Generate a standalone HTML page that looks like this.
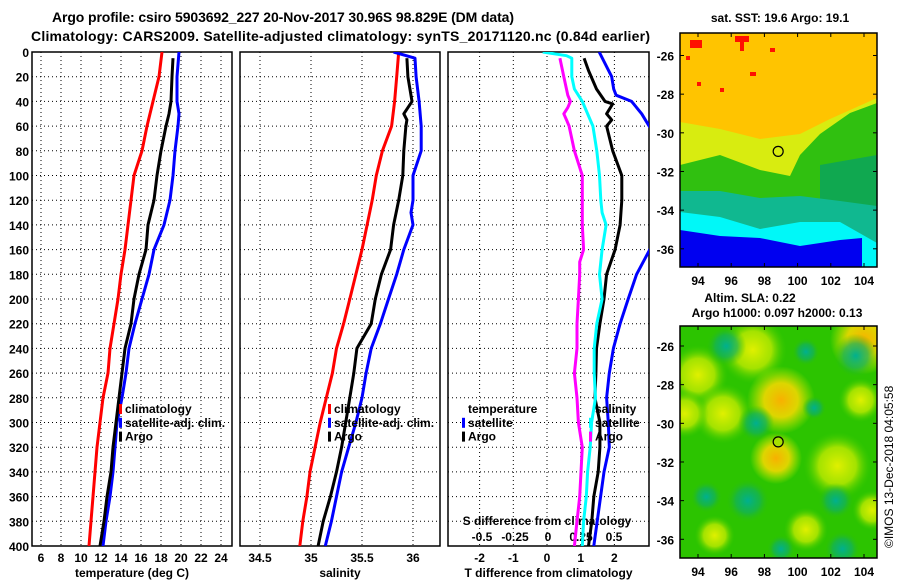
<!DOCTYPE html>
<html><head><meta charset="utf-8"><style>
body{margin:0;background:#fff;}
svg{display:block;font-family:"Liberation Sans",sans-serif;font-weight:bold;}
</style></head><body>
<svg id="chart" width="900" height="580" viewBox="0 0 900 580" xmlns="http://www.w3.org/2000/svg">
<defs>
<clipPath id="c1"><rect x="32" y="52" width="200" height="494"/></clipPath>
<clipPath id="c2"><rect x="240" y="52" width="200" height="494"/></clipPath>
<clipPath id="c3"><rect x="448" y="52" width="201" height="494"/></clipPath>
<clipPath id="cm2"><rect x="680" y="326" width="197" height="232"/></clipPath>
<radialGradient id="gy"><stop offset="0" stop-color="#e0f000"/><stop offset="0.55" stop-color="#b8e800" stop-opacity="0.85"/><stop offset="1" stop-color="#40cc00" stop-opacity="0"/></radialGradient>
<radialGradient id="go"><stop offset="0" stop-color="#f8b000"/><stop offset="0.5" stop-color="#f0d800" stop-opacity="0.9"/><stop offset="1" stop-color="#d0f000" stop-opacity="0"/></radialGradient>
<radialGradient id="gt"><stop offset="0" stop-color="#00b090"/><stop offset="0.55" stop-color="#10b060" stop-opacity="0.7"/><stop offset="1" stop-color="#30c000" stop-opacity="0"/></radialGradient>
</defs>
<text x="52" y="22" font-size="14" textLength="462">Argo profile: csiro 5903692_227 20-Nov-2017 30.96S 98.829E (DM data)</text>
<text x="31" y="41" font-size="14" textLength="619">Climatology: CARS2009. Satellite-adjusted climatology: synTS_20171120.nc (0.84d earlier)</text>
<g id="plots"></g>
<g id="maps"></g>
<text x="780" y="22" font-size="12" text-anchor="middle">sat. SST: 19.6 Argo: 19.1</text>
<text x="750" y="302" font-size="12" text-anchor="middle">Altim. SLA: 0.22</text>
<text x="777" y="317" font-size="12" text-anchor="middle">Argo h1000: 0.097 h2000: 0.13</text>
<text font-size="12" font-weight="normal" transform="translate(893,548) rotate(-90)">©IMOS 13-Dec-2018 04:05:58</text>
</svg>
<script>
// ---------- data ----------
const depthTicks=[0,20,40,60,80,100,120,140,160,180,200,220,240,260,280,300,320,340,360,380,400];
const tempTicks=[6,8,10,12,14,16,18,20,22,24];
const salTicks=[34.5,35,35.5,36];
const tdiffTicks=[-2,-1,0,1,2];
const sdiffTicks=[-0.5,-0.25,0,0.25,0.5];
const sdiffTickLabels=["-0.5","-0.25","0","0.25","0.5"];
const depthStd=[0,20,40,60,80,100,120,140,160,180,200,220,240,260,280,300,320,340,360,380,400];
const tempClim=[18.1,17.8,17.2,16.6,16.1,15.3,15.0,14.7,14.4,14.0,13.7,13.3,12.9,12.7,12.2,11.9,11.6,11.4,11.2,11.0,10.8];
const depthSatT=[0,20,40,50,60,80,100,120,140,160,180,200,220,240,260,280,300,320,340,360,380,400];
const tempSat=[19.8,19.6,19.6,19.8,19.7,19.4,19.2,18.9,18.3,17.3,16.8,16.1,15.4,14.8,14.5,14.1,13.6,13.4,13.2,12.9,12.5,12.2];
const depthArgo=[5,20,40,50,60,80,100,120,140,160,180,200,220,240,260,280,300,320,340,360,380,400];
const tempArgo=[19.2,19.1,19.0,18.8,18.5,18.0,17.6,17.3,16.7,16.5,15.8,15.3,15.0,14.4,14.1,13.8,13.5,13.2,13.0,12.6,12.3,11.9];
const salClim=[35.86,35.84,35.82,35.79,35.70,35.64,35.60,35.55,35.50,35.44,35.38,35.32,35.25,35.21,35.15,35.09,35.04,34.99,34.96,34.92,34.89];
const depthSatS=[0,5,20,40,60,80,100,120,130,140,160,180,200,220,240,260,280,300,320,340,360,380,400];
const salSat=[35.81,36.02,36.03,36.06,36.08,36.08,36.0,36.0,35.98,36.0,35.91,35.84,35.76,35.68,35.59,35.54,35.50,35.44,35.37,35.30,35.25,35.20,35.14];
const depthArgoS=[5,20,40,50,55,60,80,100,120,140,160,180,200,220,240,260,280,300,320,340,360,380,400];
const salArgo=[35.94,35.95,35.99,35.91,35.94,35.93,35.91,35.90,35.86,35.81,35.78,35.69,35.63,35.59,35.45,35.42,35.38,35.34,35.30,35.25,35.19,35.12,35.07];
const depthTdSat=[0,20,30,35,40,50,60,80,100,140,160,180,200,220,240,260,280,300,320,340,360,380,400];
const tdiffSat=[1.55,1.92,1.98,2.05,2.51,2.81,3.03,3.6,3.9,3.6,3.05,2.66,2.41,2.17,1.97,1.85,1.77,1.82,1.85,1.69,1.59,1.49,1.39];
const depthTdArgo=[5,15,30,40,42,50,55,60,80,100,120,140,160,180,200,220,240,260,280,300,320,340,360,380,400];
const tdiffArgo=[1.10,1.23,1.47,1.72,1.95,1.77,1.92,1.77,1.95,2.22,2.22,2.17,2.02,1.77,1.69,1.57,1.47,1.45,1.42,1.57,1.57,1.52,1.39,1.33,1.23];
const depthSdSat=[0,3,5,20,30,40,60,80,100,120,130,140,160,180,200,220,240,260,280,300,320,340,360,380,400];
const sdiffSat=[-0.04,0.14,0.18,0.18,0.20,0.26,0.34,0.37,0.39,0.40,0.41,0.44,0.41,0.39,0.41,0.37,0.35,0.35,0.36,0.33,0.32,0.30,0.29,0.27,0.26];
const depthSdArgo=[5,20,35,40,45,50,55,60,80,100,120,140,160,170,180,200,220,240,260,280,300,320,340,360,380,400];
const sdiffArgo=[0.09,0.12,0.15,0.17,0.15,0.12,0.14,0.16,0.20,0.26,0.26,0.26,0.27,0.24,0.24,0.23,0.22,0.22,0.20,0.22,0.23,0.26,0.25,0.24,0.22,0.20];
const lonTicks=[94,96,98,100,102,104];
const latTicks=[-26,-28,-30,-32,-34,-36];

// ---------- axes ----------
const Y0=52,Y1=546;
const yD=d=>Y0+d/400*(Y1-Y0);
const xT=t=>41+(t-6)*10;
const xS=s=>260+(s-34.5)*102;
const xTd=v=>547+v*33.7;
const xSd=v=>548+v*132;
const lonX=l=>698+(l-94)*16.6;
const latY1=a=>55.5+(-26-a)*19.33;
const latY2=a=>346+(-26-a)*19.33;

const NS="http://www.w3.org/2000/svg";
const plots=document.getElementById('plots');
function mk(tag,attrs,parent){const e=document.createElementNS(NS,tag);for(const k in attrs)e.setAttribute(k,attrs[k]);(parent||plots).appendChild(e);return e;}
function txt(s,x,y,anchor,size,parent){const e=mk('text',{x:x,y:y,'text-anchor':anchor||'middle','font-size':size||12},parent);e.textContent=s;return e;}

function panel(x0,x1,ticks,xf,labels,title,name){
  const g=mk('g',{});
  
  
  depthTicks.forEach(d=>{if(d>0&&d<400)mk('line',{x1:x0,x2:x1,y1:yD(d),y2:yD(d),stroke:'#000','stroke-width':1,'stroke-dasharray':'1,3'},g);});
  ticks.forEach((t,i)=>{const x=xf(t);if(x>x0+1&&x<x1-1)mk('line',{x1:x,x2:x,y1:Y0,y2:Y1,stroke:'#000','stroke-width':1,'stroke-dasharray':'1,3'},g);
    if(labels){const l=txt(labels[i],x,562,'middle',12,g);}});
  mk('rect',{x:x0,y:Y0,width:x1-x0,height:Y1-Y0,fill:'none',stroke:'#000','stroke-width':1.5},g);
  const t=txt(title,(x0+x1)/2,577,'middle',12,g);
  
  
  return g;
}
const g1=panel(32,232,tempTicks,xT,tempTicks.map(String),'temperature (deg C)','temperature-panel');
const g2=panel(240,440,salTicks,xS,salTicks.map(String),'salinity','salinity-panel');
const g3=panel(448,649,tdiffTicks,xTd,tdiffTicks.map(String),'T difference from climatology','difference-panel');
depthTicks.forEach(d=>{const l=txt(String(d),29,yD(d)+5,'end',12);
  
  });
const sdl=txt('S difference from climatology',547,525,'middle',12,g3);


sdiffTicks.forEach((v,i)=>{const l=txt(sdiffTickLabels[i],xSd(v),541,'middle',12,g3);
  
  });

function series(g,depths,vals,xf,color,clip,name){
  const pts=depths.map((d,i)=>xf(vals[i]).toFixed(1)+','+yD(d).toFixed(1)).join(' ');
  const p=mk('polyline',{points:pts,fill:'none',stroke:color,'stroke-width':3,'stroke-linejoin':'round','clip-path':'url(#'+clip+')'},g);
  
  
}
series(g1,depthStd,tempClim,xT,'#ff0000','c1','temp-climatology-line');
series(g1,depthSatT,tempSat,xT,'#0000ff','c1','temp-satellite-line');
series(g1,depthArgo,tempArgo,xT,'#000000','c1','temp-argo-line');
series(g2,depthStd,salClim,xS,'#ff0000','c2','sal-climatology-line');
series(g2,depthSatS,salSat,xS,'#0000ff','c2','sal-satellite-line');
series(g2,depthArgoS,salArgo,xS,'#000000','c2','sal-argo-line');
series(g3,depthTdSat,tdiffSat,xTd,'#0000ff','c3','tdiff-satellite-line');
series(g3,depthTdArgo,tdiffArgo,xTd,'#000000','c3','tdiff-argo-line');
series(g3,depthSdSat,sdiffSat,xSd,'#00ffff','c3','sdiff-satellite-line');
series(g3,depthSdArgo,sdiffArgo,xSd,'#ff00ff','c3','sdiff-argo-line');

function legend(g,x,items,name){
  const lg=mk('g',{},g);
  
  
  items.forEach((it,i)=>{const y=413+i*13.8;
    if(it[1])mk('rect',{x:x,y:y-9,width:3,height:10,fill:it[1]},lg);
    txt(it[0],x+6,y,'start',12,lg);});
}
legend(g1,119,[['climatology','#ff0000'],['satellite-adj. clim.','#0000ff'],['Argo','#000000']],'temperature-legend');
legend(g2,328,[['climatology','#ff0000'],['satellite-adj. clim.','#0000ff'],['Argo','#000000']],'salinity-legend');
legend(g3,462,[['temperature',null],['satellite','#0000ff'],['Argo','#000000']],'tdiff-legend');
legend(g3,589,[['salinity',null],['satellite','#00ffff'],['Argo','#ff00ff']],'sdiff-legend');

// ---------- maps ----------
const maps=document.getElementById('maps');
function mapAxes(g,y0,y1,latY){
  lonTicks.forEach(l=>{const x=lonX(l);mk('line',{x1:x,x2:x,y1:y1,y2:y1-4,stroke:'#000'},g);mk('line',{x1:x,x2:x,y1:y0,y2:y0+4,stroke:'#000'},g);
    const t=txt(String(l),x,y1+18,'middle',12,g);});
  latTicks.forEach(a=>{const y=latY(a);mk('line',{x1:680,x2:684,y1:y,y2:y,stroke:'#000'},g);mk('line',{x1:877,x2:873,y1:y,y2:y,stroke:'#000'},g);
    const t=txt(String(a),674,y+5,'end',12,g);});
  mk('rect',{x:680,y:y0,width:197,height:y1-y0,fill:'none',stroke:'#000','stroke-width':1.5},g);
}
const m1=mk('g',{},maps);


mk('rect',{x:680,y:33,width:197,height:234,fill:'#ffc400'},m1);
mk('polygon',{points:'680,122 720,129 760,139 800,134 830,119 877,98 877,267 680,267',fill:'#d8ec10'},m1);
mk('polygon',{points:'680,165 720,155 760,170 790,176 800,155 820,134 850,113 877,103 877,267 680,267',fill:'#30c010'},m1);
mk('polygon',{points:'820,165 877,155 877,267 820,267',fill:'#10a850'},m1);
mk('polygon',{points:'680,191 720,191 760,198 800,196 840,201 877,206 877,267 680,267',fill:'#10b890'},m1);
mk('polygon',{points:'680,212 720,217 760,229 800,222 840,222 877,243 877,267 680,267',fill:'#00f8f8'},m1);
mk('polygon',{points:'680,230 720,236 760,238 800,246 840,240 862,238 862,267 680,267',fill:'#0000f0'},m1);
mk('polygon',{points:'862,248 877,246 877,267 862,267',fill:'#00f8f8'},m1);
[[690,40,12,8],[735,36,14,6],[770,48,5,4],[697,82,4,4],[720,88,4,4],[740,37,4,14],[750,72,6,4],[686,56,4,4]].forEach(r=>mk('rect',{x:r[0],y:r[1],width:r[2],height:r[3],fill:'#ff1000'},m1));
mk('circle',{cx:lonX(98.83),cy:latY1(-30.96),r:5,fill:'none',stroke:'#000','stroke-width':1.2},m1);
mapAxes(m1,33,267,latY1);

const m2=mk('g',{'clip-path':'url(#cm2)'},maps);


mk('rect',{x:680,y:326,width:197,height:232,fill:'#2cc400'},m2);
[[94,-27.5,30,'gy'],[95.5,-29.5,30,'gy'],[93.2,-29.5,24,'gy'],[97.3,-26.2,34,'gy'],[99,-28.8,34,'go'],[98.7,-31.8,26,'go'],[102.4,-32.2,34,'gy'],[104,-25.7,34,'go'],[103.8,-28.8,22,'gy'],[100.5,-35.5,22,'gy'],[95,-35.8,20,'gy'],[104.5,-34.5,20,'gy']].forEach(b=>mk('circle',{cx:lonX(b[0]),cy:latY2(b[1]),r:b[2],fill:'url(#'+b[3]+')'},m2));
[[95.7,-26,20],[97.5,-30,18],[97,-34,22],[103.5,-26.5,22],[102.3,-34,18],[94.5,-33.8,16],[100.5,-26.3,14],[102.7,-36.5,18],[101,-29.2,12],[99,-36.5,14]].forEach(b=>mk('circle',{cx:lonX(b[0]),cy:latY2(b[1]),r:b[2],fill:'url(#gt)'},m2));
mk('circle',{cx:lonX(98.83),cy:latY2(-30.96),r:5,fill:'#a8e000',stroke:'#000','stroke-width':1.2},m2);
const m2a=mk('g',{},maps);


mapAxes(m2a,326,558,latY2);
</script>
</body></html>
